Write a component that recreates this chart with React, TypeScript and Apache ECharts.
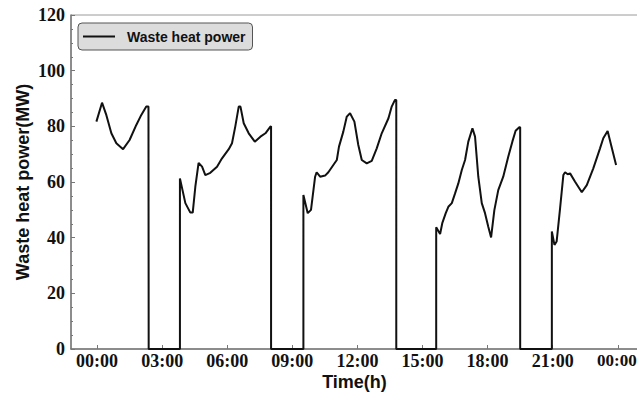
import React, { useEffect, useRef } from "react";
import * as echarts from "echarts";

// time in hours, power in MW
const hours: number[] = [
  -0.03, 0.23, 0.43, 0.66, 0.89, 1.2, 1.5, 1.81, 2.04, 2.27, 2.37, 2.38,
  3.82, 3.82, 4.07, 4.3, 4.41, 4.53, 4.68, 4.84, 4.99, 5.22, 5.53, 5.76, 6.07, 6.22, 6.37, 6.53, 6.61, 6.76, 6.99, 7.27, 7.53, 7.76, 7.99, 8.02, 8.02,
  9.51, 9.51, 9.71, 9.86, 10.05, 10.12, 10.28, 10.51, 10.66, 10.89, 11.05, 11.15, 11.35, 11.51, 11.66, 11.86, 12.04, 12.2, 12.43, 12.66, 12.89, 13.12, 13.43, 13.58, 13.73, 13.79, 13.79,
  15.63, 15.63, 15.81, 15.91, 16.07, 16.19, 16.35, 16.5, 16.65, 16.81, 16.96, 17.11, 17.3, 17.42, 17.57, 17.73, 17.88, 18.03, 18.16, 18.31, 18.49, 18.72, 18.95, 19.14, 19.29, 19.46, 19.5, 19.5,
  20.96, 20.96, 21.08, 21.18, 21.34, 21.49, 21.57, 21.69, 21.8, 22.03, 22.34, 22.57, 22.87, 23.18, 23.33, 23.53, 23.69, 23.92,
];
const power: number[] = [
  81.7, 88.5, 84, 77.5, 73.9, 71.8, 75.1, 80.5, 84.1, 87.1, 87.1, 0,
  0, 61.3, 52.4, 49, 49, 58.3, 66.9, 65.5, 62.5, 63.3, 65.5, 68.5, 71.8, 73.9, 79.9, 87.1, 87.1, 81.1, 77.5, 74.5, 76.3, 77.5, 79.9, 80, 0,
  0, 55.3, 48.8, 50, 61.9, 63.5, 61.9, 62.3, 63.5, 66.1, 67.9, 72.7, 78.1, 83.5, 84.7, 81.7, 73.3, 67.9, 66.7, 67.6, 72.1, 77.5, 82.9, 87.1, 89.5, 89.5, 0,
  0, 43.7, 41.3, 45.2, 48.8, 51.1, 52.4, 55.9, 59.5, 64.3, 67.9, 74.5, 79.3, 76.3, 61.9, 52.4, 48.8, 43.9, 40.1, 49.9, 57.1, 61.9, 69.1, 74.5, 78.4, 79.7, 79.7, 0,
  0, 42.2, 37.4, 38.6, 50.6, 62.5, 63.5, 62.8, 63.1, 60.1, 56.3, 58.9, 64.9, 72.1, 75.7, 78.3, 73.3, 66.1,
];
const xTickValues: number[] = [0, 3, 6, 9, 12, 15, 18, 21, 24];
const xTickLabels: string[] = ["00:00", "03:00", "06:00", "09:00", "12:00", "15:00", "18:00", "21:00", "00:00"];

export default function App() {
  const ref = useRef<HTMLDivElement>(null);
  useEffect(() => {
    if (!ref.current) return;
    const chart = echarts.init(ref.current, null, { renderer: "svg" });
    const data = hours.map((h, i) => [h, power[i]]);
    const serif = "'Liberation Serif', 'DejaVu Serif', serif";
    const sans = "'Liberation Sans', Arial, sans-serif";
    const lastTick = xTickValues[xTickValues.length - 1];
    chart.setOption({
      animation: false,
      backgroundColor: "#fff",
      grid: {
        left: 71,
        top: 15,
        right: -1,
        bottom: 46,
        outerBoundsMode: "none",
        containLabel: false,
        show: true,
        borderColor: "#9a9a9a",
        borderWidth: 1,
      },
      legend: {
        left: 78,
        top: 23,
        padding: [5, 7, 5, 5],
        backgroundColor: "#dcdcdc",
        borderColor: "#555",
        borderWidth: 1,
        borderRadius: 4,
        icon: "rect",
        itemWidth: 32,
        itemHeight: 2,
        textStyle: {
          fontFamily: sans,
          fontWeight: "bold",
          fontSize: 14,
          color: "#111",
          lineHeight: 17,
          padding: [0, 0, 0, 7],
        },
        data: ["Waste heat power"],
      },
      xAxis: {
        type: "value",
        min: -1.2,
        max: 24.93,
        name: "Time(h)",
        nameLocation: "middle",
        nameGap: 24,
        nameMoveOverlap: false,
        nameTextStyle: { fontFamily: sans, fontWeight: "bold", fontSize: 18, color: "#111" },
        axisLine: { show: true, onZero: false, lineStyle: { color: "#777", width: 1.5 } },
        axisTick: { show: true, inside: true, length: 4, customValues: xTickValues, lineStyle: { color: "#777" } },
        axisLabel: {
          customValues: xTickValues,
          formatter: (v: number) => {
            const t = xTickLabels[xTickValues.indexOf(Math.round(v))] ?? "";
            return Math.round(v) === lastTick ? `{e|${t}}` : t;
          },
          fontFamily: serif,
          fontWeight: "bold",
          fontSize: 18,
          color: "#111",
          margin: 3,
          rich: {
            e: { fontFamily: serif, fontWeight: "bold", fontSize: 17, color: "#111", padding: [0, 2, 0, 0] },
          },
        },
        splitLine: { show: false },
      },
      yAxis: {
        type: "value",
        min: 0,
        max: 120,
        interval: 20,
        name: "Waste heat power(MW)",
        nameLocation: "middle",
        nameGap: 39,
        nameMoveOverlap: false,
        nameTextStyle: { fontFamily: sans, fontWeight: "bold", fontSize: 18, color: "#111" },
        axisLine: { show: true, onZero: false, lineStyle: { color: "#777", width: 1.5 } },
        axisTick: { show: true, inside: true, length: 4, lineStyle: { color: "#777" } },
        minorTick: { show: true, splitNumber: 4, length: 2, lineStyle: { color: "#777" } },
        axisLabel: {
          fontFamily: serif,
          fontWeight: "bold",
          fontSize: 18,
          color: "#111",
          margin: 6,
        },
        splitLine: { show: false },
      },
      series: [
        {
          name: "Waste heat power",
          type: "line",
          data,
          symbol: "none",
          smooth: false,
          lineStyle: { color: "#111", width: 2 },
          itemStyle: { color: "#111" },
        },
      ],
    });
    return () => chart.dispose();
  }, []);
  return (
    <div
      ref={ref}
      style={{ position: "absolute", left: 0, top: 0, width: 637, height: 395 }}
    />
  );
}
